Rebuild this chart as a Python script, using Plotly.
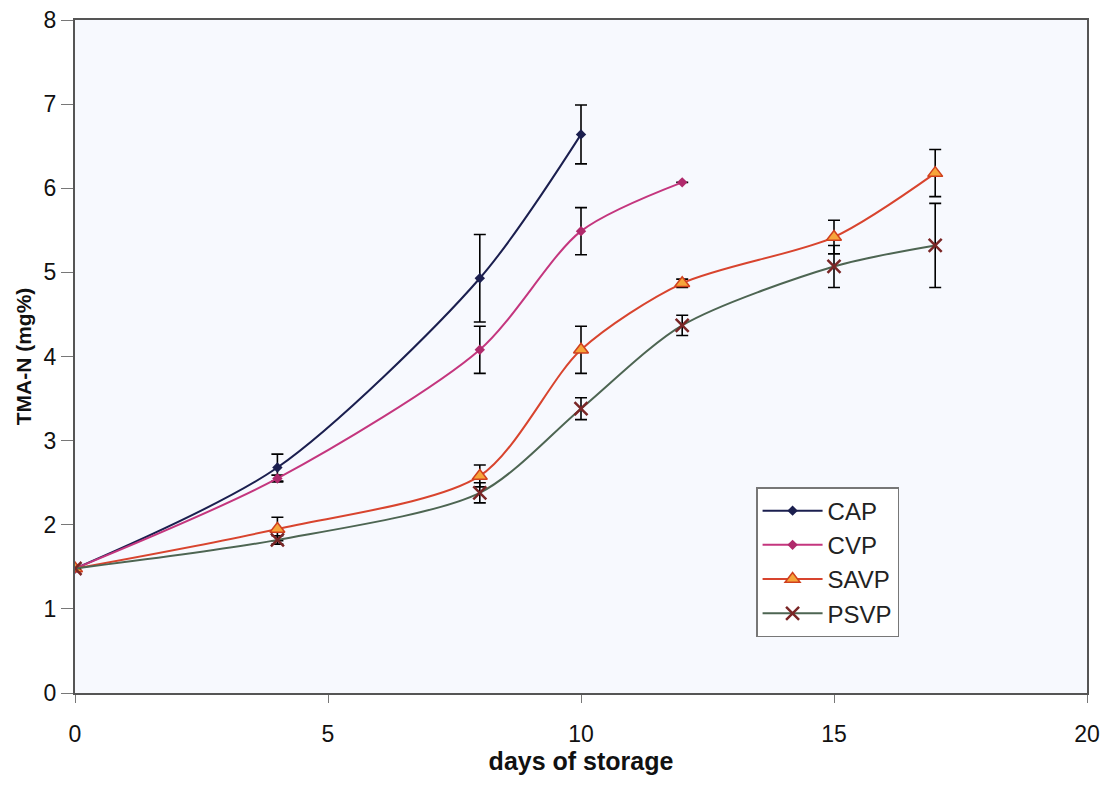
import plotly.graph_objects as go

days_cap = [0, 4, 8, 10]
cap = [1.48, 2.68, 4.93, 6.64]
cap_err = [0.0, 0.16, 0.52, 0.35]

days_cvp = [0, 4, 8, 10, 12]
cvp = [1.48, 2.55, 4.08, 5.49, 6.07]
cvp_err = [0.0, 0.04, 0.28, 0.28, 0.0]

days_savp = [0, 4, 8, 10, 12, 15, 17]
savp = [1.48, 1.95, 2.58, 4.08, 4.87, 5.42, 6.18]
savp_err = [0.0, 0.14, 0.13, 0.28, 0.05, 0.2, 0.28]

days_psvp = [0, 4, 8, 10, 12, 15, 17]
psvp = [1.48, 1.82, 2.38, 3.38, 4.37, 5.07, 5.32]
psvp_err = [0.0, 0.05, 0.12, 0.13, 0.12, 0.25, 0.5]

fig = go.Figure()

def err(vals):
    return dict(type="data", array=vals, visible=True, color="black", thickness=1.6, width=6)

fig.add_trace(go.Scatter(x=days_cap, y=cap, name="CAP", mode="lines+markers",
                         line=dict(color="#1b1f4f", width=2, shape="spline", smoothing=0.8),
                         marker=dict(symbol="diamond", size=8, color="#1b1f4f"),
                         error_y=err(cap_err)))
fig.add_trace(go.Scatter(x=days_cvp, y=cvp, name="CVP", mode="lines+markers",
                         line=dict(color="#c4367e", width=2, shape="spline", smoothing=0.8),
                         marker=dict(symbol="diamond", size=8, color="#b02a6c"),
                         error_y=err(cvp_err)))
fig.add_trace(go.Scatter(x=days_savp, y=savp, name="SAVP", mode="lines+markers",
                         line=dict(color="#d8442e", width=2, shape="spline", smoothing=0.8),
                         marker=dict(symbol="triangle-up", size=13, color="#f6a53a",
                                     line=dict(color="#d0401e", width=1.5)),
                         error_y=err(savp_err)))
fig.add_trace(go.Scatter(x=days_psvp, y=psvp, name="PSVP", mode="lines+markers",
                         line=dict(color="#4d6552", width=2, shape="spline", smoothing=0.8),
                         marker=dict(symbol="x-thin-open", size=13, color="#7a2626",
                                     line=dict(color="#7a2626", width=2.5)),
                         error_y=err(psvp_err)))

FONT = "Liberation Sans, Arial, sans-serif"
axis_font = dict(family=FONT, size=23, color="#111111")

fig.update_layout(
    width=1100, height=778,
    margin=dict(l=67, r=21, t=12, b=93),
    paper_bgcolor="white",
    plot_bgcolor="#f7f9fe",
    showlegend=True,
    legend=dict(x=0.673, y=0.306, xanchor="left", yanchor="top",
                bgcolor="rgba(255,255,255,0.9)", bordercolor="#777777", borderwidth=1.5,
                font=dict(family=FONT, size=24, color="#222222"),
                tracegroupgap=0, itemwidth=60),
    xaxis=dict(range=[0, 20], tickvals=[0, 5, 10, 15, 20], showgrid=False, zeroline=False,
               showline=True, linecolor="#555555", linewidth=2, mirror=True,
               ticks="outside", ticklen=8, tickcolor="#777777",
               tickfont=axis_font, automargin=False, ticklabeloverflow="allow",
               ticklabelstandoff=11,
               title=dict(text="<b>days of storage</b>", font=dict(family=FONT, size=25, color="#111111"), standoff=2)),
    yaxis=dict(range=[0, 8], dtick=1, showgrid=False, zeroline=False,
               showline=True, linecolor="#555555", linewidth=2, mirror=True,
               ticks="outside", ticklen=12, tickcolor="#777777",
               tickfont=axis_font, automargin=False, ticklabeloverflow="allow",
               title=dict(text="<b>TMA-N (mg%)</b>", font=dict(family=FONT, size=21, color="#111111"), standoff=6)),
)

fig.write_html("out.html")
